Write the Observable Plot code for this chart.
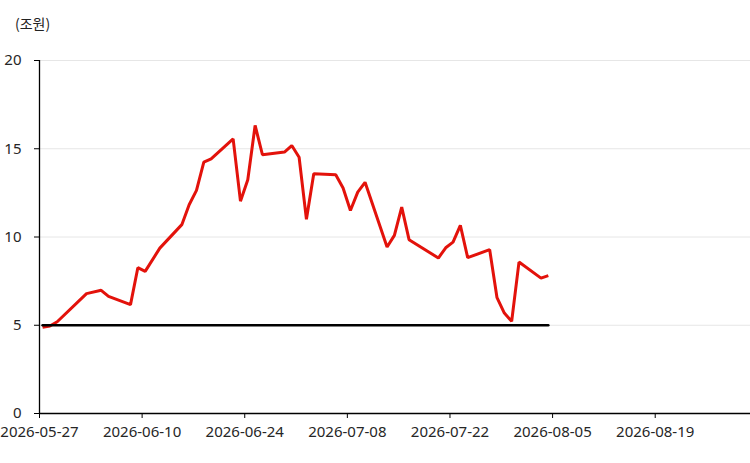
<!DOCTYPE html>
<html>
<head>
<meta charset="utf-8">
<script src="https://cdn.jsdelivr.net/npm/d3@7"></script>
<script src="https://cdn.jsdelivr.net/npm/@observablehq/plot@0.6"></script>
<style>
  html, body { margin: 0; padding: 0; background: #fff; }
  #wrap { width: 750px; height: 463px; position: relative; overflow: hidden; }
  #unit { position: absolute; left: 15px; top: 13px; font-family: "Noto Sans CJK KR", "Noto Sans", sans-serif; font-size: 14px; color: #222; line-height: 20px; }
  #chart { position: absolute; left: 0; top: 40px; }
</style>
</head>
<body>
<div id="wrap">
  <div id="unit">(조원)</div>
  <div id="chart"></div>
</div>
<script>
const dates = [
  "2026-05-27","2026-05-28","2026-05-29","2026-06-02","2026-06-04","2026-06-05",
  "2026-06-08","2026-06-09","2026-06-10","2026-06-12","2026-06-15","2026-06-16",
  "2026-06-17","2026-06-18","2026-06-19","2026-06-22","2026-06-23","2026-06-24",
  "2026-06-25","2026-06-26","2026-06-29","2026-06-30","2026-07-01","2026-07-02",
  "2026-07-03","2026-07-06","2026-07-07","2026-07-08","2026-07-09","2026-07-10",
  "2026-07-13","2026-07-14","2026-07-15","2026-07-16","2026-07-20","2026-07-21",
  "2026-07-22","2026-07-23","2026-07-24","2026-07-27","2026-07-28","2026-07-29",
  "2026-07-30","2026-07-31","2026-08-03","2026-08-04"
];
const values = [
  4.88, 4.96, 5.2, 6.79, 6.98, 6.64,
  6.17, 8.26, 8.05, 9.37, 10.7, 11.83,
  12.64, 14.24, 14.43, 15.56, 12.03, 13.24,
  16.32, 14.66, 14.81, 15.18, 14.52, 11.0,
  13.58, 13.53, 12.78, 11.5, 12.54, 13.1,
  9.43, 10.09, 11.69, 9.85, 8.81, 9.39,
  9.71, 10.66, 8.83, 9.28, 6.56, 5.69,
  5.22, 8.58, 7.67, 7.81
];
const baseline = 5;
const xTicks = ["2026-05-27","2026-06-10","2026-06-24","2026-07-08","2026-07-22","2026-08-05","2026-08-19"];
const yTicks = [0, 5, 10, 15, 20];
const xDomain = ["2026-05-27", "2026-09-01"];

const parse = s => new Date(s + "T00:00:00Z");
const mid = s => new Date(s + "T10:00:00Z");
const series = dates.map((d, i) => ({date: mid(d), value: values[i]}));
const base = dates.map(d => ({date: mid(d), value: baseline}));

const font = "'Noto Sans', 'Noto Sans CJK KR', sans-serif";

const chart = Plot.plot({
  width: 750,
  height: 423,
  marginLeft: 39,
  marginRight: 0,
  marginTop: 20,
  marginBottom: 50,
  style: {fontFamily: font, fontSize: "15px", color: "#262626", background: "#fff"},
  x: {type: "utc", domain: xDomain.map(parse)},
  y: {domain: [0, 20]},
  marks: [
    Plot.gridY(yTicks.filter(v => v > 0), {stroke: "#e6e6e6", strokeOpacity: 1, strokeWidth: 1}),
    Plot.axisY({ticks: yTicks, tickSize: 5, tickPadding: 13, label: null, fontSize: 15, stroke: "#000", strokeOpacity: 1}),
    Plot.axisX({ticks: xTicks.map(parse), tickSize: 5, tickPadding: 8, label: null, fontSize: 15,
      tickFormat: d3.utcFormat("%Y-%m-%d"), stroke: "#000", strokeOpacity: 1}),
    Plot.ruleX([parse(xDomain[0])], {stroke: "#000", strokeWidth: 1.3}),
    Plot.ruleY([0], {stroke: "#000", strokeWidth: 1.3}),
    Plot.line(series, {x: "date", y: "value", stroke: "#e3120b", strokeWidth: 3, strokeLinejoin: "miter", strokeLinecap: "butt"}),
    Plot.line(base, {x: "date", y: "value", stroke: "#000", strokeWidth: 2.5})
  ]
});
document.getElementById("chart").appendChild(chart);
</script>
</body>
</html>
